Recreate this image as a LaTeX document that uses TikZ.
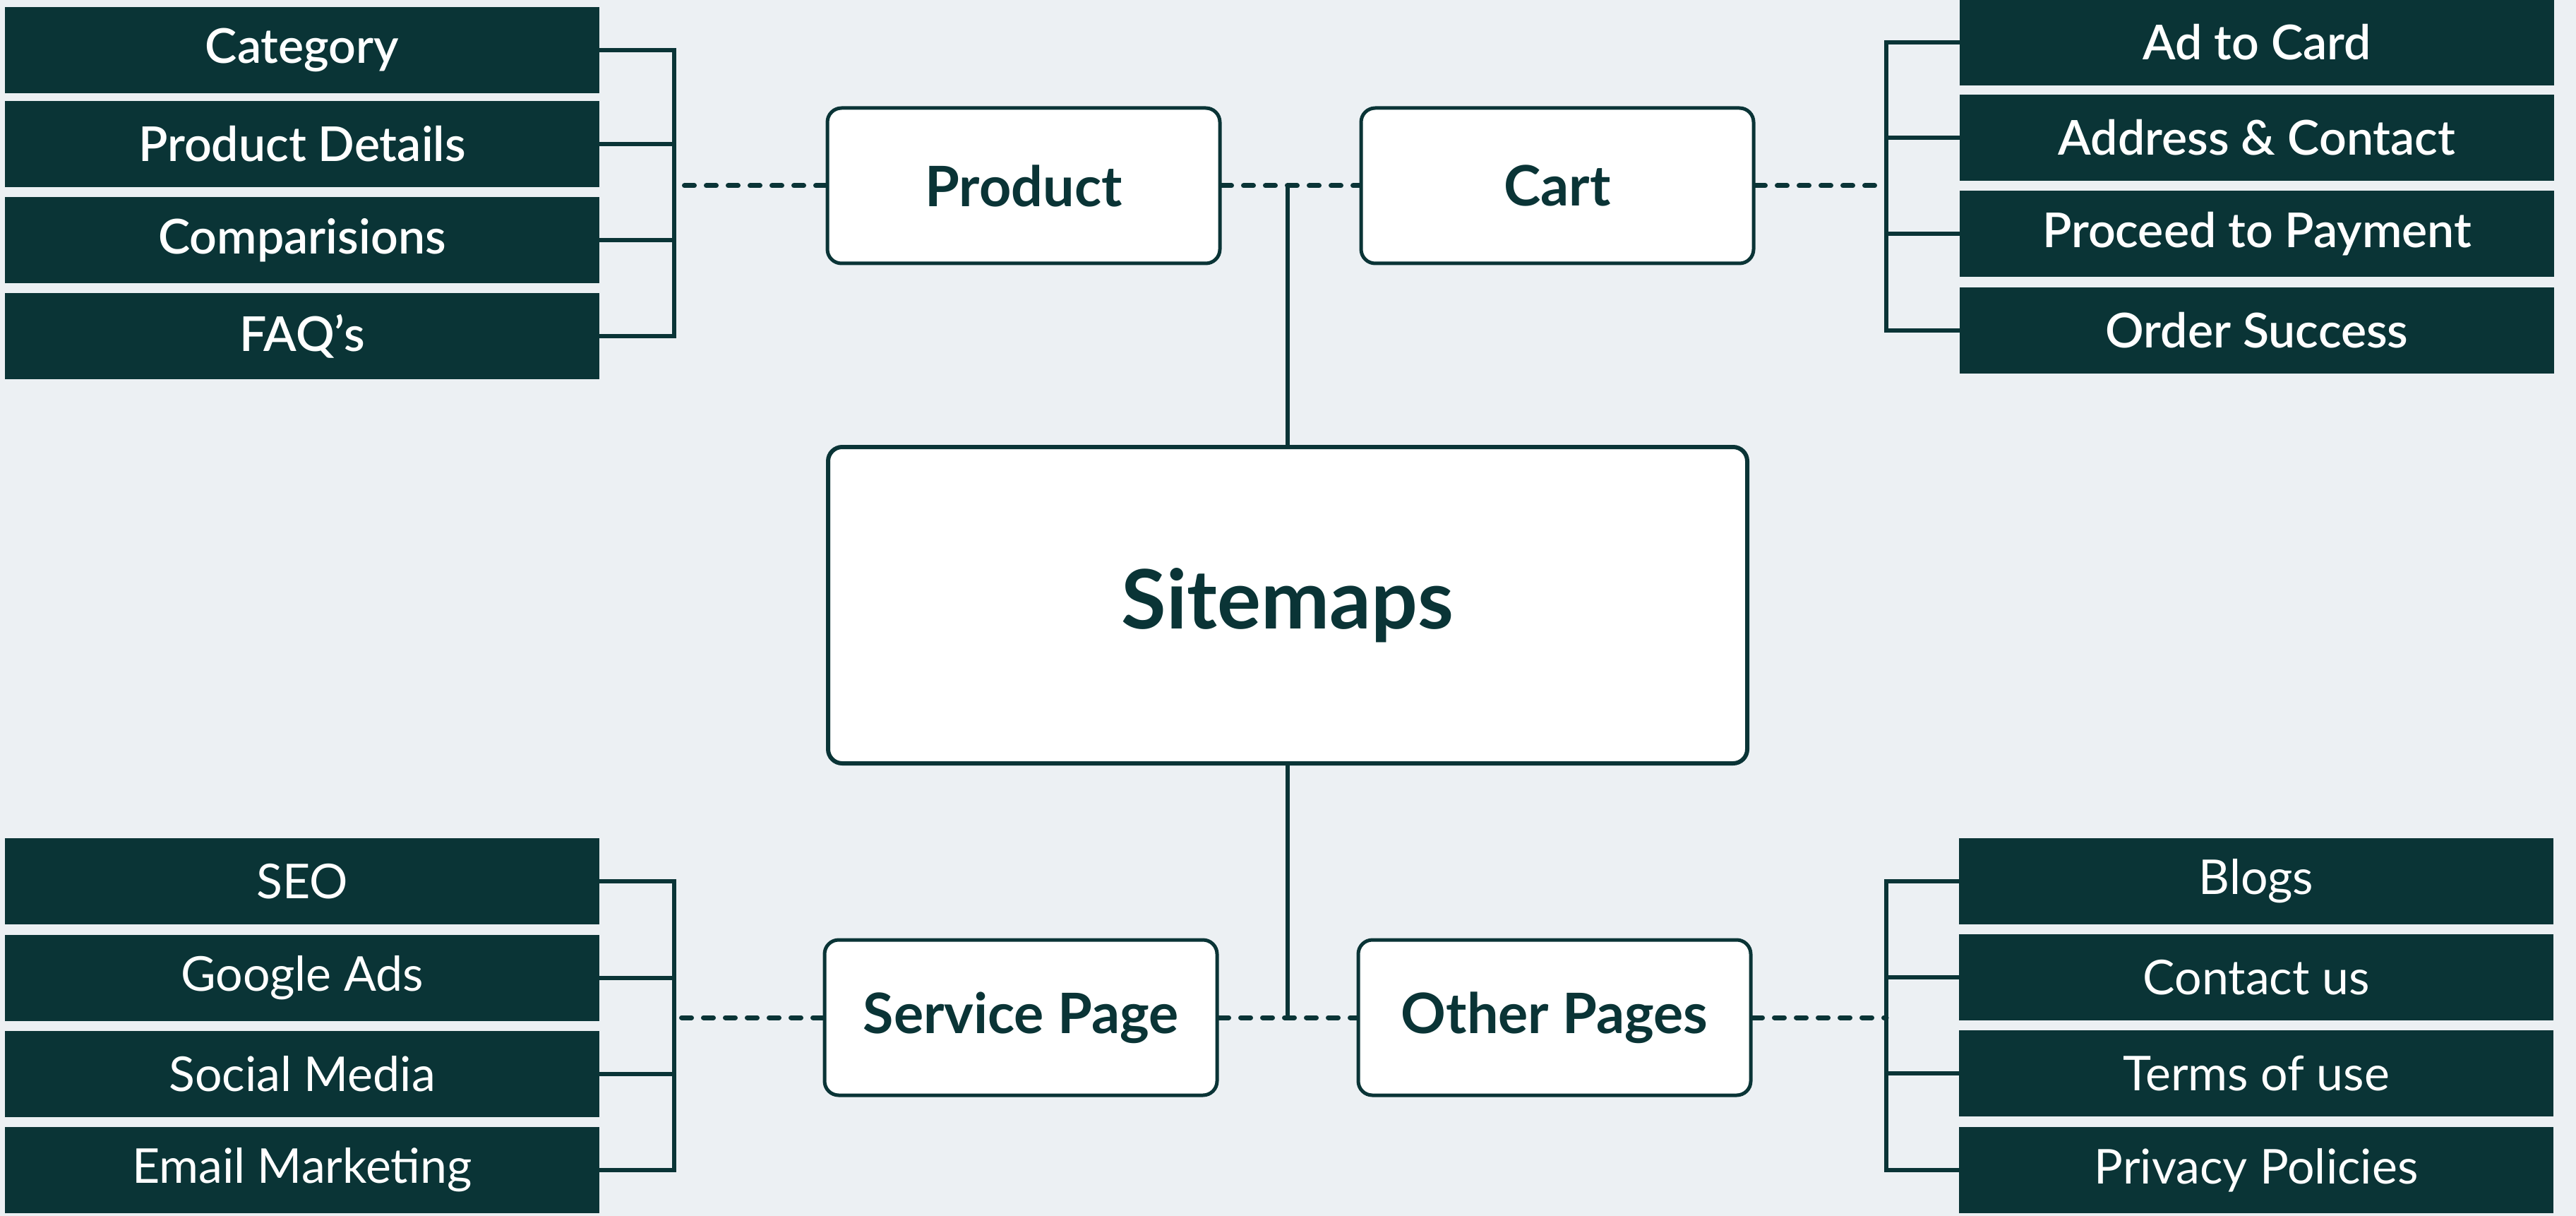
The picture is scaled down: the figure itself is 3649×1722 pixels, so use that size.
\documentclass[tikz,border=0pt]{standalone}
\usepackage{fontspec}
\setmainfont{Lato}
\newfontfamily\semib{Lato Semibold}
\usepackage{xcolor}
\usepackage{tikz}
\usetikzlibrary{calc,positioning}
\definecolor{darkc}{HTML}{0A3436}
\definecolor{pagebg}{HTML}{ECF0F3}
\tikzset{
  ln/.style={line width=3pt,darkc},
  dl/.style={line width=3.5pt,darkc,line cap=round,dash pattern=on 7pt off 8.5pt},
  leaf/.style={fill=darkc,text=white,minimum width=421pt,minimum height=61pt,inner sep=0pt,font=\fontsize{34}{40}\selectfont},
  leafb/.style={leaf,font=\semib\fontsize{34}{40}\selectfont},
  hub/.style={draw=darkc,line width=2.5pt,fill=white,rounded corners=10pt,minimum width=278pt,minimum height=110pt,inner sep=0pt,text=darkc,font=\bfseries\fontsize{39.5}{46}\selectfont}
}
\begin{document}
\begin{tikzpicture}[x=0.5pt,y=-0.5pt]
\fill[pagebg] (0,0) rectangle (3649,1722);
\useasboundingbox (0,0) rectangle (3649,1722);
% brackets
\coordinate (lbrk) at (955,0);
\coordinate (rbrk) at (2672,0);
% top left
\node[leafb] (cat) at (428,71) {Category};
\node[leafb] (pdet) at (428,204) {Product Details};
\node[leafb] (comp) at (428,340) {Comparisions};
\node[leafb] (faq) at (428,476) {FAQ’s};
% top right
\node[leafb] (adc) at (3197,60) {Ad to Card};
\node[leafb] (addr) at (3197,195) {Address \& Contact};
\node[leafb] (pay) at (3197,331) {Proceed to Payment};
\node[leafb] (ord) at (3197,468) {Order Success};
% bottom left
\node[leaf] (seo) at (428,1248) {SEO};
\node[leaf] (gads) at (428,1385) {Google Ads};
\node[leaf] (soc) at (428,1521) {Social Media};
\node[leaf] (mail) at (428,1657) {Email Marketing};
% bottom right
\node[leaf] (blog) at (3196,1248) {Blogs};
\node[leaf] (cont) at (3196,1384) {Contact us};
\node[leaf] (terms) at (3196,1520) {Terms of use};
\node[leaf] (priv) at (3196,1657) {Privacy Policies};
% middle
\node[hub] (prod) at (1450,263) {Product};
\node[hub] (cart) at (2206,263) {Cart};
\node[hub] (serv) at (1446,1441) {Service Page};
\node[hub] (other) at (2202,1441) {Other Pages};
\node[hub,minimum width=651pt,minimum height=224pt,line width=3pt,font=\bfseries\fontsize{58}{66}\selectfont] (site) at (1824,857) {Sitemaps};

\draw[ln] (site.north) -- (site.north |- prod.east);
\draw[ln] (site.south) -- (site.south |- serv.east);
\draw[dl] (prod.east) -- (cart.west);
\draw[dl] (serv.east) -- (other.west);

\draw[ln] (cat.east) -- (cat.east -| lbrk) -- (faq.east -| lbrk) -- (faq.east);
\draw[ln] (pdet.east) -- (pdet.east -| lbrk);
\draw[ln] (comp.east) -- (comp.east -| lbrk);
\draw[dl] (prod.west) -- (prod.west -| lbrk);

\draw[ln] (adc.west) -- (adc.west -| rbrk) -- (ord.west -| rbrk) -- (ord.west);
\draw[ln] (addr.west) -- (addr.west -| rbrk);
\draw[ln] (pay.west) -- (pay.west -| rbrk);
\draw[dl] (cart.east) -- (cart.east -| rbrk);

\draw[ln] (seo.east) -- (seo.east -| lbrk) -- (mail.east -| lbrk) -- (mail.east);
\draw[ln] (gads.east) -- (gads.east -| lbrk);
\draw[ln] (soc.east) -- (soc.east -| lbrk);
\draw[dl] (serv.west) -- (serv.west -| lbrk);

\draw[ln] (blog.west) -- (blog.west -| rbrk) -- (priv.west -| rbrk) -- (priv.west);
\draw[ln] (cont.west) -- (cont.west -| rbrk);
\draw[ln] (terms.west) -- (terms.west -| rbrk);
\draw[dl] (other.east) -- (other.east -| rbrk);
\end{tikzpicture}
\end{document}
